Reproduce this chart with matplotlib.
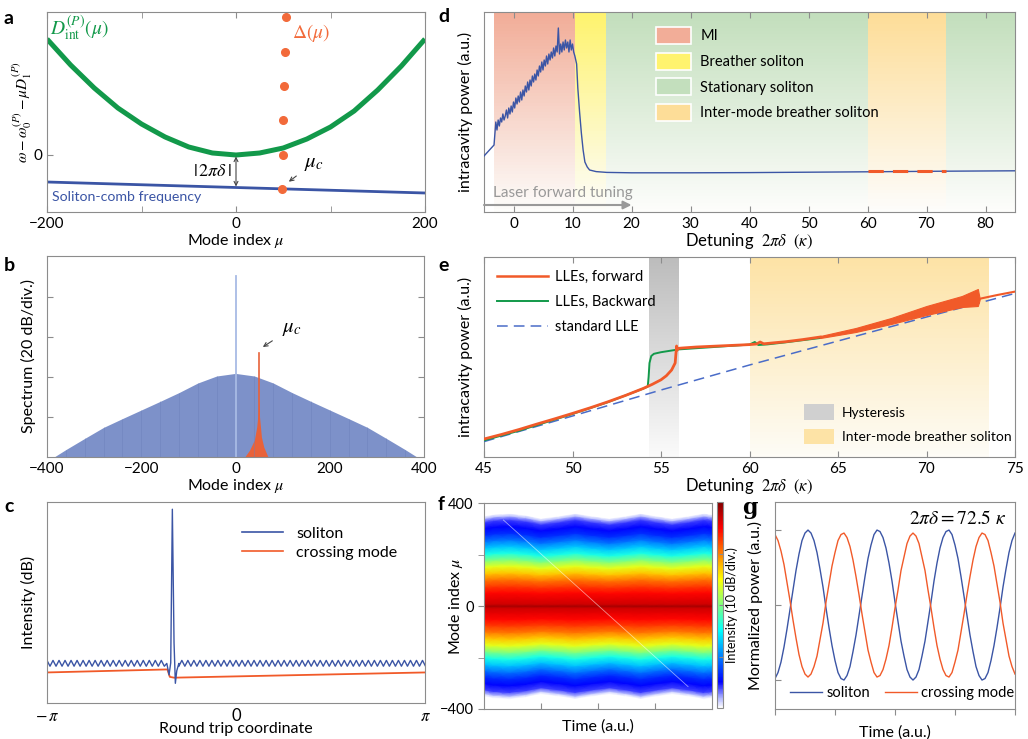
import numpy as np
import matplotlib
matplotlib.use("Agg")
import matplotlib.pyplot as plt
from matplotlib.patches import Patch
from matplotlib.lines import Line2D
from matplotlib.colors import LinearSegmentedColormap, to_rgb

plt.rcParams['font.family'] = ['Lato', 'DejaVu Sans']
plt.rcParams['mathtext.fontset'] = 'stix'
plt.rcParams['font.size'] = 10.5
plt.rcParams['axes.edgecolor'] = '#8c8c8c'
plt.rcParams['xtick.color'] = '#8c8c8c'
plt.rcParams['ytick.color'] = '#8c8c8c'
plt.rcParams['xtick.labelcolor'] = 'black'
plt.rcParams['ytick.labelcolor'] = 'black'
plt.rcParams['xtick.direction'] = 'in'
plt.rcParams['ytick.direction'] = 'in'
plt.rcParams['xtick.labelsize'] = 11
plt.rcParams['ytick.labelsize'] = 11

BLUE = '#3b55a5'
GREEN = '#12994a'
ORANGE = '#f15a29'

# ---- panel a: dispersion ----
a_mu = [-200, -175, -150, -125, -100, -75, -50, -25, 0, 25, 50, 75, 100, 125, 150, 175, 200]
a_dint = [116, 90, 67, 47, 31, 18, 8, 2, 0, 2, 7, 16, 28, 44, 65, 89, 116]
a_comb_mu = [-200, 200]
a_comb = [-27, -38]
a_delta_mu = [53.3, 52.3, 51.2, 50.2, 49.5, 48.5]
a_delta = [137.7, 103.3, 69.0, 34.7, 0.3, -34.3]

# ---- panel b: spectrum ----
b_mu = [-385, -360, -320, -280, -240, -200, -160, -120, -80, -40, 0,
        40, 80, 120, 160, 200, 240, 280, 320, 360, 385]
b_db = [0, 3.7, 9.3, 14.8, 19.2, 23.5, 27.8, 32.2, 37.0, 40.5, 41.8,
        40.5, 37.0, 32.2, 27.8, 23.5, 19.2, 14.8, 9.3, 3.7, 0]
b_pump_db = 90.5
b_cross_mu = [19.5, 30, 40, 45, 48, 49.8, 51, 55, 60, 69]
b_cross_db = [0, 3.5, 8.5, 15, 22, 28.5, 20, 10, 5, 0]
b_cross_peak = (49.8, 51.8)

# ---- panel c: waveform ----
c_ripple_levels = [21.2, 18.3]
c_pulse_x = [-1.15, -1.113, -1.085, -1.058, -1.03, -1.008, -0.985, -0.95]
c_pulse_y = [19.7, 14.0, 20.0, 96.4, 30.0, 9.8, 16.0, 19.7]
c_cross_x = [-np.pi, -1.14, -1.10, -1.03, np.pi]
c_cross_y = [15.2, 16.7, 13.0, 12.6, 15.2]

# ---- panel d: forward tuning ----
d_mi_y = [45, 41, 46, 43, 47, 45, 49, 46, 48, 51, 47, 52, 49, 53, 50, 55, 52, 57, 54, 58,
          55, 60, 56, 61, 58, 63, 60, 65, 61, 66, 63, 68, 65, 69, 66, 71, 68, 73, 70, 75,
          71, 76, 73, 78, 74, 79, 76, 80, 77, 82, 78, 83, 80, 92, 79, 84, 80, 85, 81, 86,
          82, 85, 80, 86, 81, 84, 80, 78]
d_mi_x = list(np.round(np.arange(-3.0, 10.5, 0.2), 1))
d_x = [-5, -3.3] + d_mi_x + [10.7, 10.9, 11.2, 11.5, 11.8, 12.1, 12.5, 12.9, 14, 15.8,
                             20, 30, 40, 50, 60, 73, 85]
d_y = [28, 33.5] + d_mi_y + [74, 62, 50, 39.5, 31, 25, 22.5, 21, 20.2, 19.8,
                             19.6, 19.6, 19.7, 19.9, 20.1, 20.4, 20.6]
d_regions = [(-3.3, 10.5, '#f2ad98', 'MI'),
             (10.5, 15.7, '#fff36e', 'Breather soliton'),
             (15.7, 60.0, '#c3dfbd', 'Stationary soliton'),
             (60.0, 73.3, '#fddd98', 'Inter-mode breather soliton'),
             (73.3, 85.0, '#c3dfbd', None)]

# ---- panel e: forward / backward ----
e_fw_x = [45, 46, 47, 48, 49, 50, 51, 52, 53, 54, 54.5, 55, 55.3, 55.6, 55.8, 55.88, 55.92,
          55.95, 56.2, 57, 58, 59, 60, 60.4, 60.6, 60.8, 61.5, 62, 63, 64]
e_fw_y = [9, 11.3, 13.8, 16.5, 19.1, 21.8, 24.6, 27.6, 30.8, 34.3, 36.3, 38.6, 40.6, 43.5,
          47, 55.5, 53.5, 54.3, 54.5, 55, 55.4, 55.8, 56.2, 56.5, 57.5, 56.6, 57.2, 57.6,
          58.7, 60.0]
e_band_x = [64, 66, 68, 70, 71, 72, 72.9, 73.0]
e_band_hi = [60.5, 64.5, 69.5, 75.5, 78, 80.5, 84.0, 79.5]
e_band_lo = [59.5, 62.5, 66.5, 71.0, 73, 75.0, 75.5, 78.5]
e_tail_x = [73.0, 73.1, 74, 75]
e_tail_y = [79.0, 79.3, 81, 82.7]
e_bw_x = [45, 47, 50, 52, 54, 54.25, 54.3, 54.35, 54.45, 54.6, 55, 56, 58, 60, 60.3, 60.5,
          61, 62, 64]
e_bw_y = [8.3, 13.2, 21.5, 27.4, 34.2, 35.2, 40, 47, 50.5, 51.6, 52.4, 53.8, 55, 56.2, 57.5,
          56, 56.3, 57.3, 59.5]
e_lle_x = [45, 50, 55, 60, 65, 70, 75]
e_lle_y = [7.7, 20.5, 33.5, 46, 58, 70, 81.8]

# ---- panel f: spectrogram ----
f_mu = [-400, -375, -350, -340, -325, -300, -275, -250, -225, -200, -175, -150, -125, -100,
        -75, -50, -25, -8, 0, 8, 25, 50, 75, 100, 125, 150, 175, 200, 225, 250, 275, 300,
        325, 340, 350, 375, 400]
f_level = [0, 0, 0, 0.04, 0.10, 0.13, 0.17, 0.24, 0.32, 0.40, 0.50, 0.60, 0.68, 0.76,
           0.82, 0.87, 0.90, 0.92, 0.96, 0.92, 0.90, 0.87, 0.82, 0.76, 0.68, 0.60, 0.50, 0.40,
           0.32, 0.24, 0.17, 0.13, 0.10, 0.04, 0, 0, 0]
f_t = [0, 0.17, 0.45, 0.73, 1.0, 1.3, 1.6, 1.9, 2.2, 2.48, 2.75, 3.03, 3.3, 3.58, 3.85, 4.0]
f_scale = [1.0, 1.02, 1.03, 1.01, 0.975, 1.0, 1.03, 1.0, 0.975, 1.0, 1.03, 1.0, 0.975, 1.0,
           1.03, 1.02]

# ---- panel g: breathing ----
g_t = list(np.round(np.arange(0, 4.001, 0.05), 2))
g_sol = [0.01, 0.05, 0.12, 0.22, 0.34, 0.47, 0.60, 0.73, 0.84, 0.93, 0.98, 1.00, 0.98, 0.93,
         0.85, 0.74, 0.62, 0.48, 0.35, 0.23, 0.13, 0.05, 0.01, 0.00, 0.03, 0.09, 0.19, 0.30,
         0.43, 0.56, 0.69, 0.81, 0.90, 0.97, 1.00, 0.99, 0.95, 0.88, 0.78, 0.66, 0.52, 0.39,
         0.26, 0.16, 0.07, 0.02, 0.00, 0.02, 0.07, 0.16, 0.26, 0.39, 0.52, 0.66, 0.78, 0.88,
         0.95, 0.99, 1.00, 0.97, 0.90, 0.81, 0.69, 0.56, 0.43, 0.30, 0.19, 0.09, 0.03, 0.00,
         0.01, 0.05, 0.13, 0.23, 0.35, 0.48, 0.62, 0.74, 0.85, 0.93, 0.98]
g_cross = [0.97, 0.93, 0.86, 0.77, 0.65, 0.53, 0.40, 0.28, 0.17, 0.09, 0.04, 0.02, 0.04, 0.09,
           0.16, 0.27, 0.38, 0.52, 0.64, 0.76, 0.85, 0.93, 0.97, 0.98, 0.95, 0.89, 0.80, 0.69,
           0.57, 0.44, 0.32, 0.20, 0.12, 0.05, 0.02, 0.03, 0.07, 0.14, 0.23, 0.35, 0.48, 0.60,
           0.73, 0.82, 0.91, 0.96, 0.98, 0.96, 0.91, 0.82, 0.73, 0.60, 0.48, 0.35, 0.23, 0.14,
           0.07, 0.03, 0.02, 0.05, 0.12, 0.20, 0.32, 0.44, 0.57, 0.69, 0.80, 0.89, 0.95, 0.98,
           0.97, 0.93, 0.85, 0.76, 0.64, 0.52, 0.38, 0.27, 0.16, 0.09, 0.04]

W, H = 1028, 739
fig = plt.figure(figsize=(W / 100, H / 100), dpi=100)


def px_axes(l, t, r, b):
    return fig.add_axes([l / W, 1 - b / H, (r - l) / W, (b - t) / H])


def grad_span(ax, x0, x1, top, y0, y1, bottom='#fdfdfb'):
    top = np.array(to_rgb(top))
    bottom = np.array(to_rgb(bottom))
    f = np.linspace(1, 0, 64)[:, None]
    img = (f * top + (1 - f) * bottom)[:, None, :]
    ax.imshow(img, extent=[x0, x1, y0, y1], aspect='auto', origin='upper', zorder=0)


def panel_label(x, y, s, **kw):
    fig.text(x / W, 1 - y / H, s, fontsize=14, fontweight='bold', va='center', ha='left', **kw)


# ================= a =================
ax = px_axes(47, 12, 425, 212)
ax.plot(a_mu, a_dint, color=GREEN, lw=3.6, solid_capstyle='butt')
ax.plot(a_comb_mu, a_comb, color=BLUE, lw=2)
ax.plot(a_delta_mu, a_delta, 'o', color='#f26a3a', ms=5.5, ls='none')
ax.annotate('', xy=(0, -31.5), xytext=(0, -1.5),
            arrowprops=dict(arrowstyle='<->', color='#444444', lw=0.8, shrinkA=0, shrinkB=0,
                            mutation_scale=7))
ax.text(-4, -16, r'$|\,2\pi\delta\,|$', ha='right', va='center', fontsize=13)
ax.annotate(r'$\mu_c$', xy=(55.9, -26.7), xytext=(82, -8), fontsize=15, ha='center', va='center',
            arrowprops=dict(arrowstyle='->', color='#444444', lw=0.8, shrinkA=4, shrinkB=0,
                            mutation_scale=7))
ax.text(80, 122, r'$\Delta(\mu)$', color='#f26a3a', fontsize=14, ha='center', va='center')
ax.text(-166, 127, r'$D_{\rm int}^{(P)}(\mu)$', color=GREEN, fontsize=14, ha='center',
        va='center')
ax.text(-195, -42, 'Soliton-comb frequency', color=BLUE, fontsize=10.2, ha='left', va='center')
ax.set_xlim(-200, 200)
ax.set_ylim(-57, 143)
ax.set_xticks([-200, 0, 200])
ax.set_xticks([-100, 100], minor=True)
ax.set_yticks([0])
ax.tick_params(top=True, which='both', length=4)
ax.set_xlabel(r'Mode index $\mu$', fontsize=11.5, labelpad=1)
ax.set_ylabel(r'$\omega-\omega_0^{(P)}-\mu D_1^{(P)}$', fontsize=11)
ax.yaxis.set_label_coords(-0.035, 0.5)
panel_label(4, 19, 'a')

# ================= b =================
ax = px_axes(47, 256, 424, 457)
ax.fill_between(b_mu, 0, b_db, color='#7d91c9', lw=0)
ax.vlines(b_mu[1:-1], 0, b_db[1:-1], color='#6a7fba', lw=0.6, alpha=0.5)
ax.plot([0, 0], [0, b_pump_db], color='#a8bbe5', lw=1.3)
ax.fill_between(b_cross_mu, 0, b_cross_db, color='#e8623a', lw=0)
ax.plot([b_cross_peak[0]] * 2, [0, b_cross_peak[1]], color='#e8623a', lw=1.2)
ax.annotate(r'$\mu_c$', xy=(58, 55), xytext=(120, 64.5), fontsize=15, ha='center', va='center',
            arrowprops=dict(arrowstyle='->', color='#444444', lw=0.8, shrinkA=6, shrinkB=0,
                            mutation_scale=7))
ax.set_xlim(-400, 400)
ax.set_ylim(0, 100.5)
ax.set_xticks([-400, -200, 0, 200, 400])
ax.set_yticks([20, 40, 60, 80])
ax.tick_params(axis='y', left=True, right=True, labelleft=False, length=4)
ax.tick_params(axis='x', length=0)
ax.set_xlabel(r'Mode index $\mu$', fontsize=11.5, labelpad=1)
ax.set_ylabel('Spectrum (20 dB/div.)', fontsize=11.5, labelpad=8)
panel_label(4, 265, 'b')

# ================= c =================
ax = px_axes(47, 502, 425, 703)
left_x = np.arange(-np.pi, -1.15, 0.05)
right_x = np.arange(-0.95, np.pi + 0.01, 0.05)
left_y = [c_ripple_levels[i % 2] for i in range(len(left_x))]
right_y = [c_ripple_levels[(i + 1) % 2] for i in range(len(right_x))]
c_sol_x = list(left_x) + c_pulse_x + list(right_x)
c_sol_y = left_y + c_pulse_y + right_y
ax.plot(c_cross_x, c_cross_y, color=ORANGE, lw=1.3, label='crossing mode')
ax.plot(c_sol_x, c_sol_y, color=BLUE, lw=1.0, label='soliton')
ax.set_xlim(-np.pi, np.pi)
ax.set_ylim(0, 100)
ax.set_xticks([-np.pi, 0, np.pi])
ax.set_xticklabels([r'$-\,\pi$', '0', r'$\pi$'])
ax.set_yticks([])
ax.tick_params(axis='x', length=0, labelsize=12)
handles = [Line2D([], [], color=BLUE, lw=1.2), Line2D([], [], color=ORANGE, lw=1.2)]
ax.legend(handles, ['soliton', 'crossing mode'], loc='upper right', bbox_to_anchor=(0.965, 0.95),
          frameon=False, fontsize=11.5, handlelength=2.6, handletextpad=0.8, labelspacing=0.3)
ax.set_xlabel('Round trip coordinate', fontsize=11.5, labelpad=-1)
ax.set_ylabel('Intensity (dB)', fontsize=11.5, labelpad=8)
panel_label(4, 507, 'c')

# ================= d =================
ax = px_axes(484, 12, 1015, 212)
for x0, x1, col, lab in d_regions:
    grad_span(ax, x0, x1, col, 0, 100)
ax.plot(d_x, d_y, color=BLUE, lw=1.0, zorder=3)
ax.plot([60, 73.3], [20.3, 20.3], color=ORANGE, lw=2.2, dashes=(5, 3), zorder=4)
ax.annotate('', xy=(20, 3.5), xytext=(-5, 3.5),
            arrowprops=dict(arrowstyle='-|>', color='#999999', lw=1.5, mutation_scale=12,
                            shrinkA=0, shrinkB=0))
ax.text(-3.5, 9.5, 'Laser forward tuning', color='#999999', fontsize=11, ha='left', va='center')
d_handles = [Patch(facecolor=c, edgecolor='white', lw=1.2) for x0, x1, c, l in d_regions if l]
d_labels = [l for x0, x1, c, l in d_regions if l]
ax.legend(d_handles, d_labels, loc='upper left', bbox_to_anchor=(0.3, 0.99), frameon=False,
          fontsize=10.5, handlelength=2.4, handleheight=1.4, labelspacing=0.6, handletextpad=0.6)
ax.set_xlim(-5, 85)
ax.set_ylim(0, 100)
ax.set_xticks(range(0, 90, 10))
ax.set_yticks([])
ax.tick_params(axis='x', top=True, length=4)
ax.set_xlabel(r'Detuning $\ 2\pi\delta\ \ (\kappa)$', fontsize=12, labelpad=1)
ax.set_ylabel('intracavity power (a.u.)', fontsize=11.5, labelpad=8)
panel_label(438, 17, 'd')

# ================= e =================
ax = px_axes(484, 257, 1015, 457)
grad_span(ax, 54.3, 55.95, '#bdbdbd', 0, 100, bottom='#fafafa')
grad_span(ax, 60.0, 73.5, '#fde3a6', 0, 100, bottom='#fefcf6')
ax.plot(e_lle_x, e_lle_y, color='#4a6cc8', lw=1.1, dashes=(7, 4), zorder=3)
ax.plot(e_bw_x, e_bw_y, color=GREEN, lw=1.4, zorder=4)
ax.plot(e_fw_x, e_fw_y, color=ORANGE, lw=2.0, zorder=5)
ax.fill_between(e_band_x, e_band_lo, e_band_hi, color=ORANGE, lw=0.8, zorder=5)
ax.plot(e_tail_x, e_tail_y, color=ORANGE, lw=1.5, zorder=5)
h1 = [Line2D([], [], color=ORANGE, lw=1.8), Line2D([], [], color=GREEN, lw=1.4),
      Line2D([], [], color='#4a6cc8', lw=1.1, dashes=(7, 4))]
leg1 = ax.legend(h1, ['LLEs, forward', 'LLEs, Backward', 'standard LLE'], loc='upper left',
                 bbox_to_anchor=(0.0, 1.0), frameon=False, fontsize=10.5, handlelength=3.5,
                 handletextpad=0.5, labelspacing=0.75)
ax.add_artist(leg1)
h2 = [Patch(facecolor='#d0d0d0', edgecolor='none'), Patch(facecolor='#fde3a6', edgecolor='none')]
ax.legend(h2, ['Hysteresis', 'Inter-mode breather soliton'], loc='lower left',
          bbox_to_anchor=(0.58, 0.0), frameon=False, fontsize=10, handlelength=2.1,
          handleheight=1.35, labelspacing=0.65, handletextpad=0.6)
ax.set_xlim(45, 75)
ax.set_ylim(0, 100)
ax.set_xticks(range(45, 80, 5))
ax.set_yticks([])
ax.tick_params(axis='x', top=True, length=4)
ax.set_xlabel(r'Detuning $\ 2\pi\delta\ \ (\kappa)$', fontsize=12, labelpad=1)
ax.set_ylabel('intracavity power (a.u.)', fontsize=11.5, labelpad=8)
panel_label(438, 265, 'e')

# ================= f =================
ax = px_axes(484, 503, 712, 709)
wjet = LinearSegmentedColormap.from_list('wjet', [
    (0.0, '#ffffff'), (0.05, '#aab0ff'), (0.125, '#0000ff'), (0.375, '#00ffff'),
    (0.5, '#80ff80'), (0.625, '#ffff00'), (0.875, '#ff0000'), (1.0, '#800000')])
M = np.outer(f_mu, f_scale)
T = np.tile(f_t, (len(f_mu), 1))
C = np.tile(np.array(f_level)[:, None], (1, len(f_t)))
mesh = ax.pcolormesh(T, M, C, shading='gouraud', cmap=wjet, vmin=0, vmax=1)
ax.plot([0.34, 3.58], [334, -313], color='white', lw=0.6, alpha=0.55)
ax.set_xlim(0, 4)
ax.set_ylim(-400, 400)
ax.set_xticks([1, 2, 3])
ax.set_xticklabels([])
ax.set_yticks([-400, 0, 400])
ax.set_yticks([-200, 200], minor=True)
ax.tick_params(axis='x', direction='in', length=4)
ax.tick_params(axis='y', which='both', direction='out', length=4, labelsize=10.5)
ax.set_xlabel('Time (a.u.)', fontsize=11.5, labelpad=4)
ax.set_ylabel(r'Mode index $\mu$', fontsize=11.5)
ax.yaxis.set_label_coords(-0.085, 0.5)
cax = px_axes(717, 502, 723, 708)
cb = fig.colorbar(mesh, cax=cax)
cb.set_ticks([0.25, 0.5, 0.75])
cb.ax.tick_params(labelright=False, length=3, direction='in', color='#8c8c8c')
cb.outline.set_edgecolor('#8c8c8c')
cb.set_label('Intensity (10 dB/div.)', fontsize=9, labelpad=2)
panel_label(438, 505, 'f')

# ================= g =================
ax = px_axes(775, 502, 1015, 709)
ax.plot(g_t, g_sol, color=BLUE, lw=1.0)
ax.plot(g_t, g_cross, color=ORANGE, lw=1.0)
ax.set_xlim(0, 4)
ax.set_ylim(-0.193, 1.187)
ax.set_xticks([0, 1, 2, 3, 4])
ax.set_xticklabels([])
ax.set_yticks([0, 0.5, 1])
ax.set_yticklabels([])
ax.tick_params(axis='x', direction='out', length=4)
ax.tick_params(axis='y', direction='in', length=4)
ax.text(0.76, 0.925, r'$2\pi\delta = 72.5\ \kappa$', transform=ax.transAxes, fontsize=14,
        ha='center', va='center')
hg = [Line2D([], [], color=BLUE, lw=1.0), Line2D([], [], color=ORANGE, lw=1.0)]
ax.legend(hg, ['soliton', 'crossing mode'], loc='lower center', bbox_to_anchor=(0.53, -0.02),
          ncol=2, frameon=False, fontsize=10.5, handlelength=2.2, handletextpad=0.3,
          columnspacing=1.0)
ax.set_xlabel('Time (a.u.)', fontsize=11.5, labelpad=4)
ax.set_ylabel('Mormalized power (a.u.)', fontsize=11.5)
ax.yaxis.set_label_coords(-0.05, 0.5)
fig.text(742 / W, 1 - 508 / H, 'g', fontsize=16, fontweight='bold', family='DejaVu Serif',
         va='center', ha='left')

fig.savefig('out.png', dpi=100)
